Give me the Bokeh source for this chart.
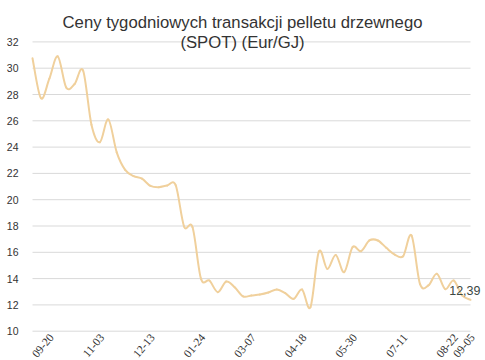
from bokeh.plotting import figure
from bokeh.models import Range1d, FixedTicker, Label, LabelSet, ColumnDataSource
from bokeh.embed import file_html
from bokeh.resources import INLINE

# Weekly SPOT prices of wood pellets (EUR/GJ)
prices = [30.76, 27.72, 29.2, 30.9, 28.53, 28.8, 29.83, 25.7, 24.37, 26.1,
          23.6, 22.27, 21.8, 21.6, 21.05, 20.95, 21.08, 21.1, 17.96, 17.9,
          14.0, 13.85, 12.97, 13.78, 13.35, 12.65, 12.72, 12.79, 12.94, 13.17,
          12.9, 12.46, 13.17, 11.83, 16.06, 14.74, 15.8, 14.49, 16.39, 16.08,
          16.9, 16.9, 16.34, 15.83, 15.7, 17.28, 13.6, 13.48, 14.37, 13.2,
          13.86, 12.72, 12.39]
tick_idx = [2, 8, 14, 20, 26, 32, 38, 44, 50, 52]
tick_labels = ["09-20", "11-03", "12-13", "01-24", "03-07",
               "04-18", "05-30", "07-11", "08-22", "09-05"]
y_ticks = [10, 12, 14, 16, 18, 20, 22, 24, 26, 28, 30, 32]
last_label = "12,39"
title_lines = ["Ceny tygodniowych transakcji pelletu drzewnego", "(SPOT) (Eur/GJ)"]

LINE = "#F0D09C"
TXT = "#333333"
FONT = "Liberation Sans"

# layout (pixels): canvas 485x360, plot area drawn from x=32..470, y(32)=41.4 .. y(10)=330.7
W, H, LEFT = 485, 360, 24
PX0, PX1, PY_TOP, PY_BOT = 32.0, 470.0, 41.4, 330.7
n = len(prices)
ymin, ymax = min(y_ticks), max(y_ticks)
xs_px = (PX1 - PX0) / (n - 1)
ys_px = (PY_BOT - PY_TOP) / (ymax - ymin)
x_range = Range1d(-(PX0 - LEFT) / xs_px, (n - 1) + (W - PX1) / xs_px)
y_range = Range1d(ymin - (H - PY_BOT) / ys_px, ymax + PY_TOP / ys_px)

p = figure(width=W, height=H, output_backend="svg", toolbar_location=None,
           title=None, x_range=x_range, y_range=y_range,
           min_border_left=LEFT, min_border_right=0, min_border_top=0, min_border_bottom=0)
p.outline_line_color = None
p.background_fill_color = "white"
p.border_fill_color = "white"

p.xaxis.visible = False
p.xgrid.visible = False
p.ygrid.visible = False
p.yaxis.ticker = FixedTicker(ticks=y_ticks)
p.yaxis.axis_line_color = None
p.yaxis.major_tick_line_color = None
p.yaxis.minor_tick_line_color = None
p.yaxis.major_tick_out = 0
p.yaxis.major_label_standoff = 6
p.yaxis.major_label_text_font = FONT
p.yaxis.major_label_text_font_size = "10.5px"
p.yaxis.major_label_text_color = TXT

# horizontal gridlines across the category span only
p.segment(x0=[0] * len(y_ticks), x1=[n - 1] * len(y_ticks), y0=y_ticks, y1=y_ticks,
          line_color="#D9D9D9", line_width=1)

# smoothed line (Catmull-Rom as cubic Bezier segments)
xs = list(range(n))
def pt(i):
    i = max(0, min(n - 1, i))
    return xs[i], prices[i]
x0, y0, x1, y1, cx0, cy0, cx1, cy1 = [], [], [], [], [], [], [], []
for i in range(n - 1):
    pa, pb, pc, pd = pt(i - 1), pt(i), pt(i + 1), pt(i + 2)
    x0.append(pb[0]); y0.append(pb[1]); x1.append(pc[0]); y1.append(pc[1])
    cx0.append(pb[0] + (pc[0] - pa[0]) / 6); cy0.append(pb[1] + (pc[1] - pa[1]) / 6)
    cx1.append(pc[0] - (pd[0] - pb[0]) / 6); cy1.append(pc[1] - (pd[1] - pb[1]) / 6)
p.bezier(x0=x0, y0=y0, x1=x1, y1=y1, cx0=cx0, cy0=cy0, cx1=cx1, cy1=cy1,
         line_color=LINE, line_width=2, line_cap="round")

# x tick labels (rotated)
src = ColumnDataSource(dict(x=tick_idx, y=[ymin] * len(tick_idx), t=tick_labels))
p.add_layout(LabelSet(x="x", y="y", text="t", source=src, angle=50, angle_units="deg",
                      text_align="right", text_baseline="middle", x_offset=2, y_offset=-4,
                      text_font=FONT, text_font_size="11.5px", text_color=TXT))

# last value label
p.add_layout(Label(x=n - 1, y=prices[-1], text=last_label, text_align="right",
                   text_baseline="alphabetic", x_offset=10, y_offset=9,
                   text_font=FONT, text_font_size="12.5px", text_color="#3C4843"))

# title (two lines, overlapping the top of the plot area); screen units relative to the plot area
p.add_layout(Label(x=218, y=H - 22, x_units="screen", y_units="screen",
                   text=title_lines[0], text_align="center", text_baseline="alphabetic",
                   text_font=FONT, text_font_size="16.7px", text_color=TXT))
p.add_layout(Label(x=218, y=H - 42, x_units="screen", y_units="screen",
                   text=title_lines[1], text_align="center", text_baseline="alphabetic",
                   text_font=FONT, text_font_size="16.7px", text_color=TXT))

open("out.html", "w").write(file_html(p, INLINE))
